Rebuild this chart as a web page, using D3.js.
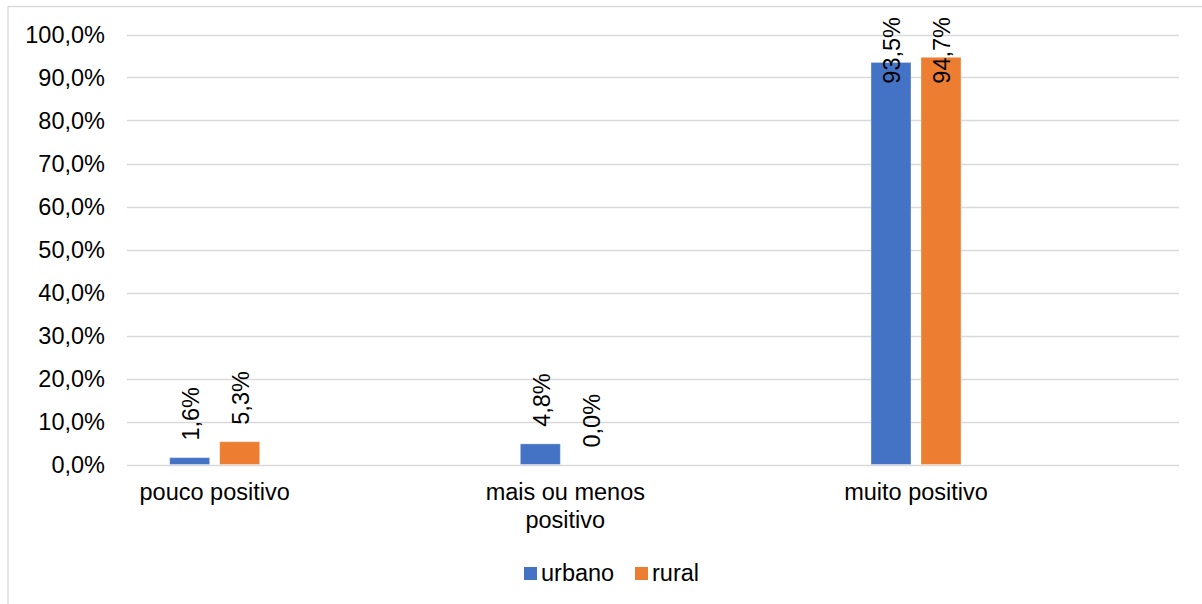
<!DOCTYPE html>
<html>
<head>
<meta charset="utf-8">
<script src="https://cdn.jsdelivr.net/npm/d3@7/dist/d3.min.js"></script>
<style>
  html, body { margin: 0; padding: 0; background: #fff; }
  svg { display: block; font-family: "Liberation Sans", Arial, sans-serif; }
</style>
</head>
<body>
<svg id="chart" width="1202" height="604"></svg>
<script>
// Category slots (empty slots keep the groups spaced apart)
const categories = ["pouco positivo", "", "mais ou menos positivo", "", "muito positivo", ""];
const seriesNames = ["urbano", "rural"];
const urbano = [0.016, null, 0.048, null, 0.935, null];
const rural  = [0.053, null, 0.000, null, 0.947, null];
const yTicks = [0, 0.1, 0.2, 0.3, 0.4, 0.5, 0.6, 0.7, 0.8, 0.9, 1.0];
const colors = ["#4472C4", "#ED7D31"];

const svg = d3.select("#chart");
const W = 1202, H = 604;
const FS = 23.5;

const ptBR = d3.formatLocale({ decimal: ",", thousands: ".", grouping: [3], currency: ["R$", ""], percent: "%" });
const pct = ptBR.format(".1%");

// Chart frame
svg.append("line").attr("x1", 8).attr("x2", W).attr("y1", 6.5).attr("y2", 6.5)
  .attr("stroke", "#d9d9d9").attr("stroke-width", 1.3);
svg.append("line").attr("x1", 8).attr("x2", 8).attr("y1", 6.5).attr("y2", H)
  .attr("stroke", "#d9d9d9").attr("stroke-width", 1.3);

const plot = { left: 127, right: 1179, top: 34.5, bottom: 464.5 };

const x0 = d3.scaleBand().domain(d3.range(categories.length))
  .range([plot.left, plot.right]).paddingInner(0).paddingOuter(0);
const x1 = d3.scaleBand().domain(seriesNames)
  .range([0, x0.bandwidth()]).paddingInner(0.2).paddingOuter(0.853);
const y = d3.scaleLinear().domain([0, 1]).range([plot.bottom, plot.top]);

// Gridlines
svg.append("g").selectAll("line").data(yTicks).join("line")
  .attr("x1", plot.left).attr("x2", plot.right)
  .attr("y1", d => Math.round(y(d)) + 0.5).attr("y2", d => Math.round(y(d)) + 0.5)
  .attr("stroke", "#d9d9d9").attr("stroke-width", 1.5);

// Y axis labels
const yAxis = d3.axisLeft(y).tickValues(yTicks).tickFormat(pct).tickSize(0).tickPadding(22);
const yg = svg.append("g").attr("transform", `translate(${plot.left},0)`).call(yAxis);
yg.select(".domain").remove();
yg.selectAll("text").attr("font-size", FS).attr("fill", "#000")
  .attr("font-family", "Liberation Sans, Arial, sans-serif").attr("dy", "0.35em");

// Category labels (wrapped to the slot width)
const catG = svg.append("g");
categories.forEach((c, i) => {
  if (!c) return;
  const cx = x0(i) + x0.bandwidth() / 2;
  const lines = c === "mais ou menos positivo" ? ["mais ou menos", "positivo"] : [c];
  const t = catG.append("text").attr("x", cx).attr("y", 500)
    .attr("text-anchor", "middle").attr("font-size", FS).attr("fill", "#000");
  lines.forEach((l, k) => t.append("tspan").attr("x", cx).attr("dy", k === 0 ? 0 : 28).text(l));
});

// Bars
const series = [urbano, rural];
const barG = svg.append("g");
const labG = svg.append("g");
seriesNames.forEach((name, s) => {
  series[s].forEach((v, i) => {
    if (v === null) return;
    const bx = x0(i) + x1(name);
    const bw = x1.bandwidth();
    barG.append("rect")
      .attr("x", bx).attr("width", bw)
      .attr("y", y(v)).attr("height", y(0) - y(v))
      .attr("fill", colors[s])
      .attr("stroke", "#ffffff").attr("stroke-opacity", 0.35).attr("stroke-width", 1);
    // Value label, rotated, clamped inside the chart area
    const lab = labG.append("text")
      .attr("font-size", FS).attr("fill", "#000")
      .attr("text-anchor", "start").attr("dy", "0.35em")
      .text(pct(v));
    const len = lab.node().getComputedTextLength();
    const yStart = Math.max(y(v) - 17, 17 + len);
    lab.attr("transform", `translate(${bx + bw / 2 + 1},${yStart}) rotate(-90)`);
  });
});

// Legend
const leg = svg.append("g");
const legItems = [{ name: "urbano", x: 524 }, { name: "rural", x: 635 }];
legItems.forEach((d, i) => {
  leg.append("rect").attr("x", d.x).attr("y", 567).attr("width", 13).attr("height", 13)
    .attr("fill", colors[i]);
  leg.append("text").attr("x", d.x + 17).attr("y", 580.5)
    .attr("font-size", FS).attr("fill", "#000").text(d.name);
});
</script>
</body>
</html>
